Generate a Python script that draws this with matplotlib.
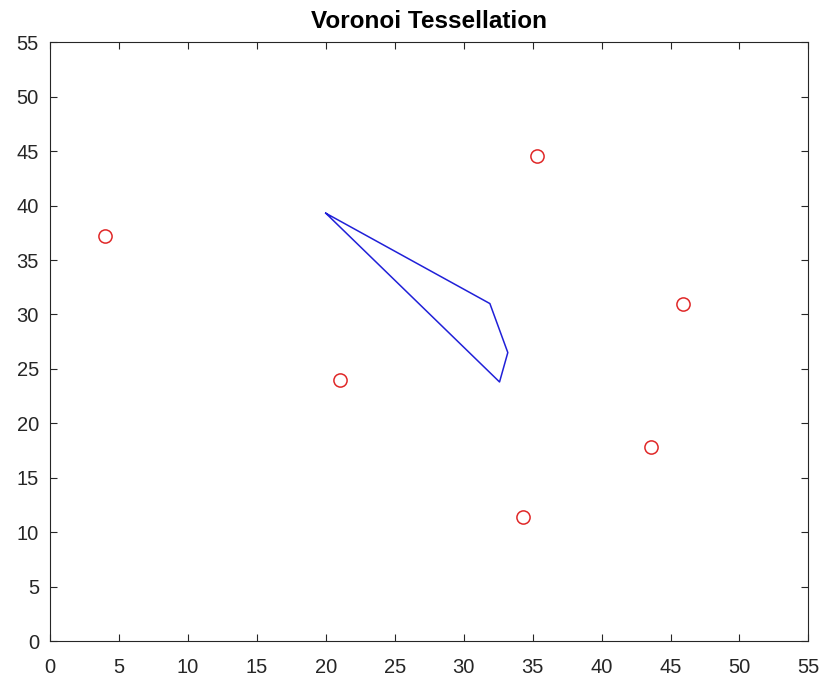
import numpy as np
from matplotlib import pyplot as plt

# seed points
pts_x = [4.0, 21.0, 35.3, 45.9, 43.6, 34.3]
pts_y = [37.2, 24.0, 44.6, 31.0, 17.8, 11.4]

# the one bounded voronoi cell
cell_x = [20.0, 31.9, 33.2, 32.6, 20.0]
cell_y = [39.3, 31.0, 26.5, 23.8, 39.3]

plt.rcParams['font.family'] = ['Liberation Sans', 'DejaVu Sans']

fig = plt.figure(figsize=(8.27, 6.82), dpi=100)
ax = fig.add_axes([0.0605, 0.060, 0.917, 0.878])

ax.plot(pts_x, pts_y, 'o', color='#e02828', markerfacecolor='none', markersize=9.5, markeredgewidth=1.1)
ax.plot(cell_x, cell_y, '-', color='#2020d8', linewidth=1.1)

ax.set_xlim(0, 55)
ax.set_ylim(0, 55)
ax.set_xticks(np.arange(0, 56, 5))
ax.set_yticks(np.arange(0, 56, 5))
ax.tick_params(direction='in', top=True, right=True, labelsize=14.5, length=5, colors='#262626')
ax.tick_params(axis='x', pad=12)
ax.tick_params(axis='y', pad=8)
for s in ax.spines.values():
    s.set_color('#262626')
    s.set_linewidth(0.8)
ax.set_title('Voronoi Tessellation', fontsize=17.5, fontweight='bold', pad=10)

plt.savefig('out.png', dpi=100)
